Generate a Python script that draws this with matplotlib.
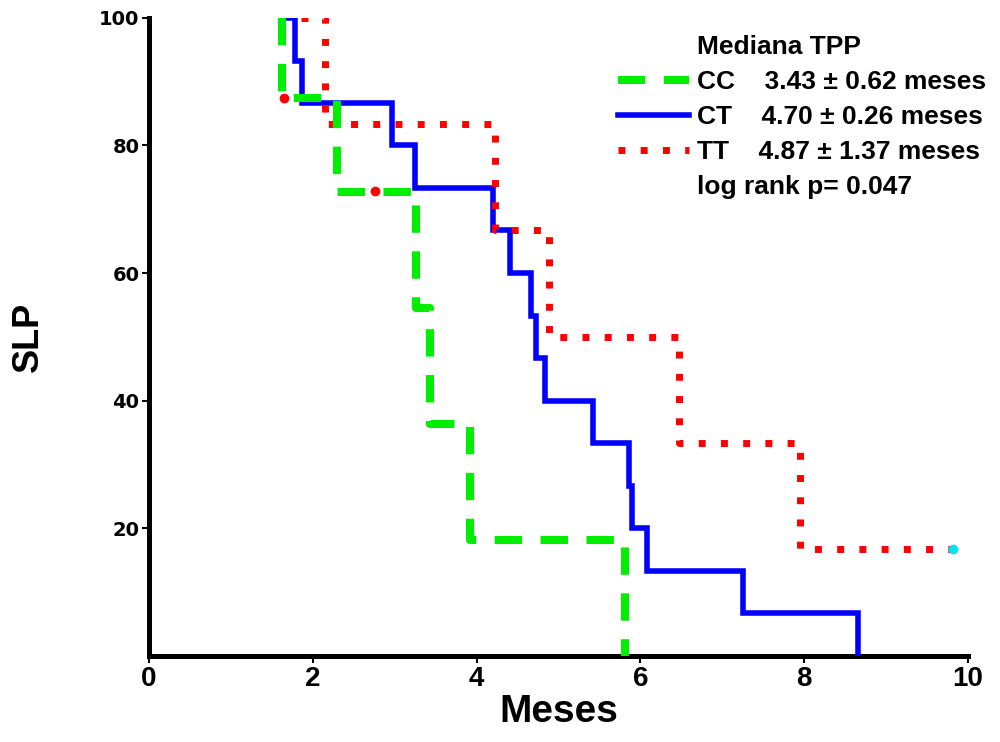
import matplotlib
matplotlib.use('Agg')
import matplotlib.pyplot as plt
from matplotlib.lines import Line2D

## data (months, % progression free)
cc_t = [1.62, 1.62, 2.30, 3.26, 3.43, 3.92, 5.81]
cc_s = [100, 87.5, 72.7, 54.5, 36.4, 18.2, 0]

ct_t = [1.66, 1.78, 1.87, 2.97, 3.25, 4.20, 4.41, 4.67, 4.72, 4.84,
        5.42, 5.86, 5.90, 6.08, 7.25, 8.66]
ct_s = [100, 93.3, 86.7, 80, 73.3, 66.7, 60, 53.3, 46.7, 40,
        33.3, 26.7, 20, 13.3, 6.7, 0]

tt_t = [1.85, 2.15, 4.22, 4.88, 6.47, 7.95, 9.82]
tt_s = [100, 83.3, 66.7, 50, 33.3, 16.7, 16.7]

cens_red_t = [1.65, 2.76]
cens_red_s = [87.5, 72.9]
cens_cyan_t = [9.82]
cens_cyan_s = [16.7]

labels = ['CC    3.43 \u00b1 0.62 meses',
          'CT    4.70 \u00b1 0.26 meses',
          'TT    4.87 \u00b1 1.37 meses']
xticks = [0, 2, 4, 6, 8, 10]
yticks = [20, 40, 60, 80, 100]

narrow = ['Liberation Sans Narrow', 'Liberation Sans', 'DejaVu Sans']

fig = plt.figure(figsize=(10, 7.42), dpi=100)
ax = fig.add_axes([0.149, 0.116, 0.819, 0.86])

l_ct, = ax.step(ct_t, ct_s, where='post', color='#0000ff', lw=4.0,
                solid_joinstyle='miter', zorder=3)
l_tt, = ax.step(tt_t, tt_s, where='post', color='#ff0000', lw=5.0,
                linestyle=(0, (1, 2.2)), dash_capstyle='butt', zorder=4)
l_cc, = ax.step(cc_t, cc_s, where='post', color='#00ee00', lw=5.8,
                linestyle=(0, (3.4, 2.3)), dash_capstyle='butt', zorder=5)
ax.plot(cens_red_t, cens_red_s, 'o', color='#ff0000', ms=6, zorder=6)
ax.plot(cens_cyan_t, cens_cyan_s, 'o', color='#00e5ee', ms=6, zorder=6)

ax.set_xlim(0, 10)
ax.set_ylim(0, 100)
ax.set_xticks(xticks)
ax.set_yticks(yticks)
ax.set_xticklabels([str(v) for v in xticks], fontsize=20, fontweight='bold',
                   family=narrow)
ax.set_yticklabels([str(v) for v in yticks], fontsize=14, fontweight='bold',
                   family='DejaVu Sans')
ax.tick_params(axis='both', direction='out', length=5, width=1.5, pad=2)

for s in ['top', 'right']:
    ax.spines[s].set_visible(False)
for s in ['left', 'bottom']:
    ax.spines[s].set_linewidth(3.6)

ax.set_xlabel('Meses', fontsize=28, fontweight='bold', family=narrow, labelpad=2)
ax.set_ylabel('SLP', fontsize=26, fontweight='bold', family='Liberation Sans',
              labelpad=38)

blank = Line2D([], [], color='none')
handles = [blank, l_cc, l_ct, l_tt, blank]
texts = ['Mediana TPP'] + labels + ['log rank p= 0.047']
leg = fig.legend(handles, texts, loc='upper left', bbox_to_anchor=(0.605, 0.971),
                 frameon=False, handlelength=2.7, handletextpad=0.3,
                 labelspacing=0.42, borderpad=0,
                 prop={'family': 'Liberation Sans', 'weight': 'bold', 'size': 19})

fig.savefig('out.png', dpi=100)
